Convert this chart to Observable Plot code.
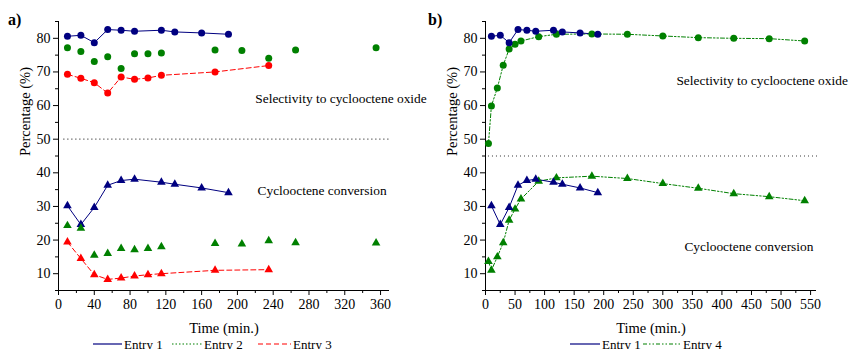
<!DOCTYPE html>
<html>
<head>
<meta charset="utf-8">
<script src="https://cdn.jsdelivr.net/npm/d3@7"></script>
<script src="https://cdn.jsdelivr.net/npm/@observablehq/plot@0.6"></script>
<style>
  body { margin: 0; background: #fff; }
  #wrap { position: relative; width: 849px; height: 349px; overflow: hidden; font-family: "Liberation Serif", "Times New Roman", serif; }
  .panel { position: absolute; top: 0; }
  .tag { position: absolute; font-weight: bold; font-size: 16px; line-height: 16px; }
  .leg { position: absolute; top: 337px; height: 14px; display: flex; align-items: center; font-size: 13px; line-height: 13px; color: #000; }
  .leg svg { display: block; }
</style>
</head>
<body>
<div id="wrap"></div>
<script>
// ---------- data ----------
const timeE1 = [10, 25, 40, 55, 70, 85, 115, 130, 160, 190];
const selE1  = [80.6, 80.9, 78.7, 82.6, 82.4, 82.1, 82.4, 81.9, 81.6, 81.2];
const convE1 = [30.2, 24.6, 29.7, 36.3, 37.7, 38.1, 37.2, 36.6, 35.5, 34.1];

const timeE2 = [10, 25, 40, 55, 70, 85, 100, 115, 175, 205, 235, 265, 355];
const selE2  = [77.2, 76.1, 73.1, 74.5, 71.0, 75.4, 75.4, 75.6, 76.5, 76.4, 74.1, 76.5, 77.2];
const convE2 = [24.3, 23.5, 15.5, 16.0, 17.5, 17.1, 17.5, 18.0, 19.0, 18.8, 19.8, 19.2, 19.1];

const timeE3 = [10, 25, 40, 55, 70, 85, 100, 115, 175, 235];
const selE3  = [69.3, 68.1, 66.8, 63.7, 68.5, 67.8, 68.2, 69.0, 70.0, 71.9];
const convE3 = [19.4, 14.5, 9.7, 8.3, 8.7, 9.3, 9.7, 10.0, 11.0, 11.2];

const timeE4 = [5, 10, 20, 30, 40, 50, 60, 90, 120, 180, 240, 300, 360, 420, 480, 540];
const selE4  = [48.7, 59.9, 65.2, 72.0, 76.8, 78.2, 79.2, 80.5, 81.2, 81.3, 81.2, 80.7, 80.2, 80.0, 79.9, 79.2];
const convE4 = [13.6, 11.0, 15.0, 19.2, 25.9, 29.2, 32.2, 37.5, 38.5, 39.0, 38.3, 36.8, 35.4, 33.8, 32.9, 31.7];

const yMajor = [10, 20, 30, 40, 50, 60, 70, 80];
const yMinor = [5, 15, 25, 35, 45, 55, 65, 75, 85];
const xMajorLeft = [0, 40, 80, 120, 160, 200, 240, 280, 320, 360];
const xMinorLeft = [20, 60, 100, 140, 180, 220, 260, 300, 340];
const xMajorRight = [0, 50, 100, 150, 200, 250, 300, 350, 400, 450, 500, 550];
const xMinorRight = [25, 75, 125, 175, 225, 275, 325, 375, 425, 475, 525];

const yDomain = [5, 85];
const xDomainLeft = [0, 370];
const xDomainRight = [0, 560];

const sepLeft = [{y: 50, x1: 6, x2: 372}];
const sepRight = [{y: 45, x1: 5, x2: 562}];

const notesLeft = [
  {x: 220, y: 61.9, text: "Selectivity to cyclooctene oxide"},
  {x: 222.5, y: 34.8, text: "Cyclooctene conversion"}
];
const notesRight = [
  {x: 323, y: 67.3, text: "Selectivity to cyclooctene oxide"},
  {x: 336.5, y: 18.1, text: "Cyclooctene conversion"}
];

const xTitle = "Time (min.)";
const yTitle = "Percentage (%)";

const NAVY = "#000080", GREEN = "#008000", RED = "#ff0000";
const DASH_E3 = "5,3", DOT_E2 = "1.5,2", DASHDOT_E4 = "4,2,1.5,2,1.5,2";

const rows = (t, v) => t.map((x, i) => ({x, y: v[i]}));

function axes(xDomain, xMaj, xMin) {
  return [
    Plot.ruleX([xDomain[0]], {y1: yDomain[0], y2: yDomain[1], stroke: "#000", strokeWidth: 1}),
    Plot.ruleY([yDomain[0]], {x1: xDomain[0], x2: xDomain[1], stroke: "#000", strokeWidth: 1}),
    Plot.axisY({ticks: yMajor, tickSize: 5, tickPadding: 3, label: null, stroke: "#000"}),
    Plot.axisY({ticks: yMinor, tickSize: 3, tickFormat: () => "", label: null, stroke: "#000"}),
    Plot.axisX({ticks: xMaj, tickSize: 5, tickPadding: 4, label: null, stroke: "#000"}),
    Plot.axisX({ticks: xMin, tickSize: 3, tickFormat: () => "", label: null, stroke: "#000"}),
    Plot.text([xTitle], {text: d => d, frameAnchor: "bottom", dy: 38, lineAnchor: "middle", fontSize: 14.5}),
    Plot.text([yTitle], {text: d => d, frameAnchor: "left", dx: -33, rotate: -90, lineAnchor: "middle", fontSize: 14.5})
  ];
}

const common = {
  height: 336,
  marginTop: 21,
  marginBottom: 46,
  style: {fontFamily: "'Liberation Serif', 'Times New Roman', serif", fontSize: "14px", color: "#000", background: "transparent", overflow: "visible"}
};

const left = Plot.plot({
  ...common,
  width: 430,
  marginLeft: 58,
  marginRight: 41,
  x: {domain: xDomainLeft},
  y: {domain: yDomain},
  marks: [
    ...axes(xDomainLeft, xMajorLeft, xMinorLeft),
    Plot.ruleY(sepLeft, {y: "y", x1: "x1", x2: "x2", stroke: "#333", strokeDasharray: "1,3", strokeWidth: 1.2}),
    Plot.line(rows(timeE1, selE1), {x: "x", y: "y", stroke: NAVY, strokeWidth: 1}),
    Plot.line(rows(timeE1, convE1), {x: "x", y: "y", stroke: NAVY, strokeWidth: 1}),
    Plot.line(rows(timeE3, selE3), {x: "x", y: "y", stroke: RED, strokeWidth: 1, strokeDasharray: DASH_E3}),
    Plot.line(rows(timeE3, convE3), {x: "x", y: "y", stroke: RED, strokeWidth: 1, strokeDasharray: DASH_E3}),
    Plot.dot(rows(timeE1, selE1), {x: "x", y: "y", r: 3.5, fill: NAVY}),
    Plot.dot(rows(timeE2, selE2), {x: "x", y: "y", r: 3.5, fill: GREEN}),
    Plot.dot(rows(timeE3, selE3), {x: "x", y: "y", r: 3.5, fill: RED}),
    Plot.dot(rows(timeE1, convE1), {x: "x", y: "y", r: 3.2, symbol: "triangle", fill: NAVY}),
    Plot.dot(rows(timeE2, convE2), {x: "x", y: "y", r: 3.2, symbol: "triangle", fill: GREEN}),
    Plot.dot(rows(timeE3, convE3), {x: "x", y: "y", r: 3.2, symbol: "triangle", fill: RED}),
    Plot.text(notesLeft, {x: "x", y: "y", text: "text", textAnchor: "start", lineAnchor: "middle", fontSize: 13.4})
  ]
});

const right = Plot.plot({
  ...common,
  width: 419,
  marginLeft: 55,
  marginRight: 33,
  x: {domain: xDomainRight},
  y: {domain: yDomain},
  marks: [
    ...axes(xDomainRight, xMajorRight, xMinorRight),
    Plot.ruleY(sepRight, {y: "y", x1: "x1", x2: "x2", stroke: "#333", strokeDasharray: "1,3", strokeWidth: 1.2}),
    Plot.line(rows(timeE4, selE4), {x: "x", y: "y", stroke: GREEN, strokeWidth: 1, strokeDasharray: DASHDOT_E4}),
    Plot.line(rows(timeE4, convE4), {x: "x", y: "y", stroke: GREEN, strokeWidth: 1, strokeDasharray: DASHDOT_E4}),
    Plot.line(rows(timeE1, selE1), {x: "x", y: "y", stroke: NAVY, strokeWidth: 1}),
    Plot.line(rows(timeE1, convE1), {x: "x", y: "y", stroke: NAVY, strokeWidth: 1}),
    Plot.dot(rows(timeE4, selE4), {x: "x", y: "y", r: 3.5, fill: GREEN}),
    Plot.dot(rows(timeE1, selE1), {x: "x", y: "y", r: 3.5, fill: NAVY}),
    Plot.dot(rows(timeE4, convE4), {x: "x", y: "y", r: 3.2, symbol: "triangle", fill: GREEN}),
    Plot.dot(rows(timeE1, convE1), {x: "x", y: "y", r: 3.2, symbol: "triangle", fill: NAVY}),
    Plot.text(notesRight, {x: "x", y: "y", text: "text", textAnchor: "start", lineAnchor: "middle", fontSize: 13.4})
  ]
});

const wrap = document.getElementById("wrap");
left.classList.add("panel"); left.style.left = "0px";
right.classList.add("panel"); right.style.left = "430px";
wrap.appendChild(left);
wrap.appendChild(right);

function tag(text, x, y) {
  const d = document.createElement("div");
  d.className = "tag"; d.textContent = text;
  d.style.left = x + "px"; d.style.top = y + "px";
  wrap.appendChild(d);
}
tag("a)", 8, 12);
tag("b)", 428, 12);

const legendLeft = [
  {label: "Entry 1", color: NAVY, dash: null, x: 93, w: 29},
  {label: "Entry 2", color: GREEN, dash: DOT_E2, x: 172, w: 30},
  {label: "Entry 3", color: RED, dash: DASH_E3, x: 258, w: 33}
];
const legendRight = [
  {label: "Entry 1", color: NAVY, dash: null, x: 570, w: 30},
  {label: "Entry 4", color: GREEN, dash: DASHDOT_E4, x: 643, w: 38}
];
for (const it of [...legendLeft, ...legendRight]) {
  const d = document.createElement("div");
  d.className = "leg";
  d.style.left = it.x + "px";
  const s = d3.create("svg").attr("width", it.w + 2).attr("height", 14);
  s.append("line").attr("x1", 0).attr("x2", it.w).attr("y1", 7).attr("y2", 7)
    .attr("stroke", it.color).attr("stroke-width", 1.2)
    .attr("stroke-dasharray", it.dash);
  d.appendChild(s.node());
  const t = document.createElement("span");
  t.textContent = it.label;
  d.appendChild(t);
  wrap.appendChild(d);
}
</script>
</body>
</html>
